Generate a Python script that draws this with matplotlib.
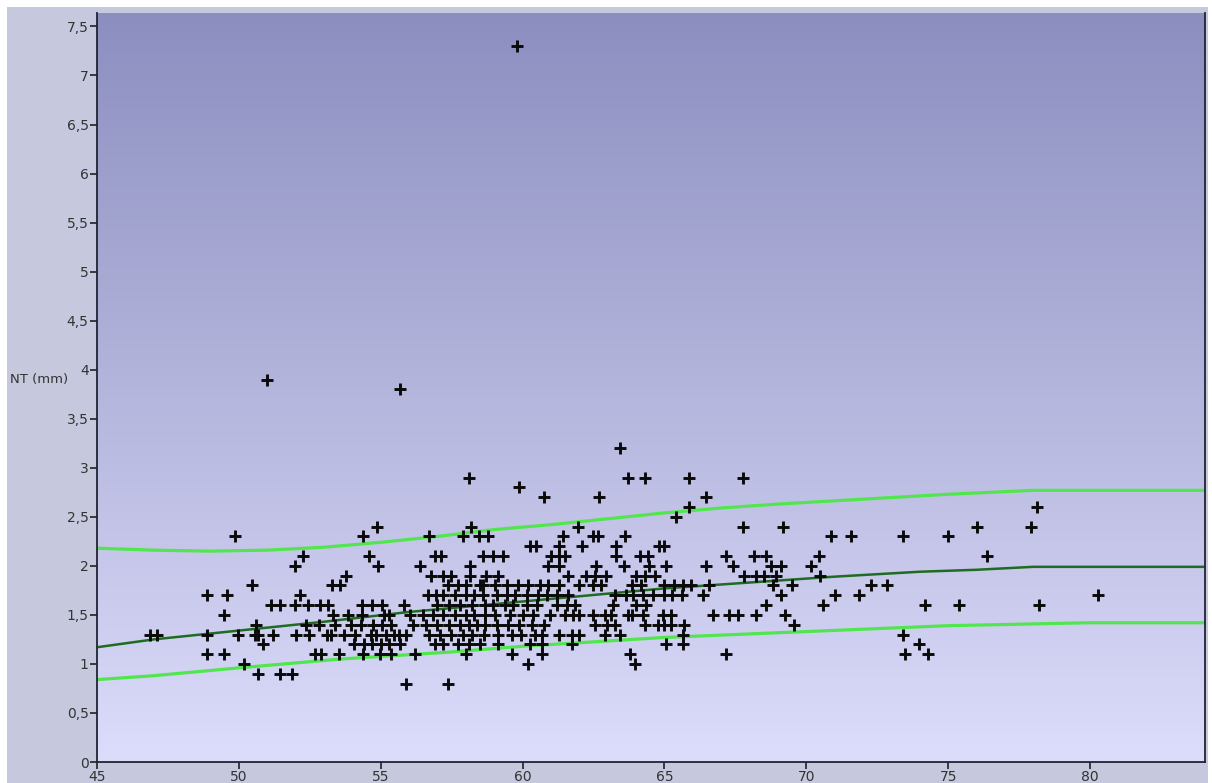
import numpy as np
import matplotlib
matplotlib.use("Agg")
import matplotlib.pyplot as plt
from matplotlib.patches import Rectangle
from matplotlib.ticker import FuncFormatter
from matplotlib.colors import LinearSegmentedColormap

# --- measurements: NT (mm) grouped by value, CRL (mm) of each case ---
nt_rows = {
    0.8: [55.88, 57.38],
    0.9: [50.66, 51.44, 51.89],
    1.0: [50.18, 60.18, 63.97],
    1.1: [48.86, 49.46, 52.68, 52.91, 53.53, 54.38, 54.96, 55.35, 56.2, 57.99,
          59.61, 60.67, 63.8, 67.17, 73.49, 74.3],
    1.2: [50.86, 54.05, 54.4, 54.7, 55.0, 55.3, 55.67, 56.92, 57.2, 57.73, 58.1,
          58.5, 59.12, 60.25, 60.67, 61.73, 65.06, 65.64, 73.98],
    1.3: [46.87, 47.1, 48.86, 49.98, 50.56, 50.68, 51.2, 52.03, 52.48, 53.1, 53.25,
          53.7, 54.1, 54.65, 54.85, 55.2, 55.45, 55.65, 55.9, 56.7, 57.1, 57.49,
          57.9, 58.2, 58.63, 59.12, 59.61, 59.96, 60.42, 60.67, 61.3, 61.73, 62.0,
          62.89, 63.42, 65.64, 73.39],
    1.4: [50.6, 52.38, 52.82, 53.38, 53.94, 54.32, 54.73, 55.05, 55.35, 56.15,
          56.6, 57.0, 57.4, 57.8, 58.1, 58.4, 58.66, 59.08, 59.47, 59.89, 60.32,
          60.77, 62.54, 62.96, 63.24, 64.3, 64.77, 65.0, 65.24, 65.7, 69.58],
    1.5: [49.46, 53.31, 53.85, 54.35, 55.1, 55.3, 56.02, 56.49, 56.84, 57.19,
          57.6, 58.0, 58.3, 58.66, 59.01, 59.54, 60.0, 60.35, 60.95, 61.48, 61.76,
          62.0, 62.48, 62.89, 63.13, 63.7, 63.85, 64.24, 64.94, 65.24, 66.7, 67.29,
          67.58, 68.23, 69.25],
    1.6: [51.15, 51.44, 51.97, 52.44, 52.85, 53.15, 54.35, 54.7, 55.03, 55.82,
          57.0, 57.4, 57.8, 58.2, 58.66, 58.94, 59.37, 59.65, 60.14, 60.49, 61.2,
          61.55, 61.83, 63.17, 64.0, 64.35, 68.58, 70.57, 74.19, 75.39, 78.2],
    1.7: [48.86, 49.58, 52.17, 56.67, 56.96, 57.19, 57.6, 58.0, 58.3, 58.6, 59.08,
          59.44, 59.72, 60.14, 60.53, 60.85, 61.2, 61.6, 63.24, 63.65, 63.9, 64.23,
          64.58, 65.0, 65.28, 65.6, 66.35, 69.1, 71.0, 71.87, 80.29],
    1.8: [50.48, 53.28, 53.55, 57.37, 57.73, 58.02, 58.49, 58.6, 59.01, 59.44,
          59.82, 60.18, 60.6, 60.89, 61.3, 62.0, 62.48, 62.77, 63.87, 64.18, 65.0,
          65.35, 65.64, 65.94, 66.58, 68.81, 69.5, 72.28, 72.86],
    1.9: [53.78, 56.78, 57.19, 57.49, 58.13, 58.72, 59.13, 61.6, 62.24, 62.54,
          62.95, 64.0, 64.3, 64.65, 67.82, 68.23, 68.52, 68.93, 70.48],
    2.0: [51.97, 54.9, 56.37, 58.16, 60.89, 61.3, 62.59, 63.59, 64.47, 65.06,
          66.47, 67.4, 68.75, 69.1, 70.17],
    2.1: [52.26, 54.58, 56.9, 57.14, 58.6, 58.95, 59.31, 61.0, 61.3, 61.48, 63.3,
          64.12, 64.41, 67.17, 68.17, 68.58, 70.46, 76.38],
    2.2: [60.25, 60.46, 61.3, 62.1, 63.3, 64.82, 65.0],
    2.3: [49.86, 54.38, 56.69, 57.9, 58.45, 58.78, 61.42, 62.48, 62.65, 63.6,
          70.87, 71.57, 73.39, 75.0],
    2.4: [54.88, 58.17, 61.94, 67.78, 69.19, 76.0, 77.91],
    2.5: [65.39],
    2.6: [65.88, 78.13],
    2.7: [60.77, 62.68, 66.47],
    2.8: [59.86],
    2.9: [58.1, 63.73, 64.3, 65.88, 67.75],
    3.2: [63.42],
    3.8: [55.67],
    3.9: [51.0],
    7.3: [59.79],
}
crl = [x for nt, xs in nt_rows.items() for x in xs]
nt = [nt for nt, xs in nt_rows.items() for _ in xs]

# --- reference curves (median and limits) ---
median_crl = [45, 47, 50, 53, 56, 59, 62, 65, 68, 71, 74, 76, 78, 84.2]
median_nt = [1.17, 1.25, 1.34, 1.43, 1.53, 1.61, 1.69, 1.77, 1.83, 1.89, 1.94, 1.96, 1.99, 1.99]
upper_crl = [45, 47, 49, 51, 53, 55, 57, 59, 61, 63, 65, 67, 69, 72, 75, 78, 84.2]
upper_nt = [2.18, 2.16, 2.15, 2.16, 2.19, 2.24, 2.30, 2.37, 2.42, 2.48, 2.54, 2.59,
            2.63, 2.68, 2.73, 2.77, 2.77]
lower_crl = [45, 47, 50, 53.6, 57.4, 60, 65, 70, 75, 80, 84.2]
lower_nt = [0.84, 0.88, 0.96, 1.05, 1.12, 1.18, 1.27, 1.33, 1.39, 1.42, 1.42]

x_ticks = [45, 50, 55, 60, 65, 70, 75, 80]
y_ticks = [0, 0.5, 1, 1.5, 2, 2.5, 3, 3.5, 4, 4.5, 5, 5.5, 6, 6.5, 7, 7.5]

W, H = 1212, 783
fig = plt.figure(figsize=(W / 100, H / 100), dpi=100, facecolor="white")

# outer panel behind the plot
panel = fig.add_axes([0, 0, 1, 1], zorder=-5)
panel.set_axis_off()
panel.set_xlim(0, W)
panel.set_ylim(H, 0)
panel.add_patch(Rectangle((7, 7), 1208 - 7, H - 7, facecolor="#c6c9de", edgecolor="none"))

ax = fig.add_axes([97 / W, (H - 762) / H, (1205 - 97) / W, (762 - 12.7) / H], zorder=1)
xmin, xmax = 45, 84.05
ymin, ymax = 0, 7.64
ax.set_xlim(xmin, xmax)
ax.set_ylim(ymin, ymax)

# vertical gradient backdrop
grad = LinearSegmentedColormap.from_list("bg", ["#dcdcfb", "#b4b5dc", "#8c8ec0"])
ax.imshow(np.linspace(0, 1, 256).reshape(-1, 1), cmap=grad, origin="lower",
          extent=[xmin, xmax, ymin, ymax], aspect="auto", zorder=0)

ax.plot(upper_crl, upper_nt, color="#52e64e", lw=2.3, zorder=2, solid_joinstyle="round")
ax.plot(lower_crl, lower_nt, color="#52e64e", lw=2.3, zorder=2, solid_joinstyle="round")
ax.plot(median_crl, median_nt, color="#1f6b22", lw=1.8, zorder=2, solid_joinstyle="round")

ax.scatter(crl, nt, marker="+", s=85, linewidths=2.1, color="#0a0a0a", zorder=3)

comma = FuncFormatter(lambda v, p: (f"{v:g}").replace(".", ","))
ax.set_xticks(x_ticks)
ax.set_yticks(y_ticks)
ax.xaxis.set_major_formatter(comma)
ax.yaxis.set_major_formatter(comma)
ax.tick_params(axis="both", direction="out", length=5, width=1.2, color="#222222",
               labelsize=10, labelcolor="#333333", pad=1)

for side in ("left", "bottom", "right"):
    ax.spines[side].set_color("#222233")
    ax.spines[side].set_linewidth(1.3)
ax.spines["top"].set_visible(False)

fig.text(10 / W, 1 - 380 / H, "NT (mm)", fontsize=9.5, color="#333333",
         ha="left", va="center")

fig.savefig("out.png", dpi=100, facecolor=fig.get_facecolor())
